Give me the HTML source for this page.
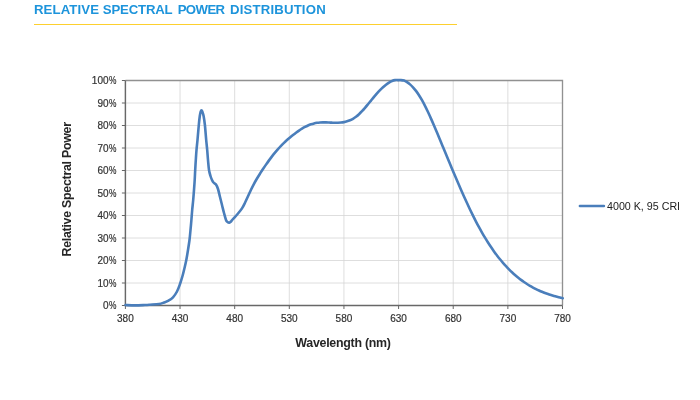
<!DOCTYPE html>
<html><head><meta charset="utf-8"><title>Relative Spectral Power Distribution</title>
<style>
html,body{margin:0;padding:0;background:#fff;}
body{width:700px;height:400px;position:relative;overflow:hidden;font-family:"Liberation Sans",sans-serif;}
h1{position:absolute;left:0;top:1.65px;width:400px;height:16px;margin:0;font-size:13.2px;line-height:16px;font-weight:bold;color:#1d94db;white-space:nowrap;}
h1 span{position:absolute;top:0;}
.rule{position:absolute;left:34px;top:23.7px;width:422.5px;height:1.2px;background:#fdd02e;}
svg{position:absolute;left:0;top:0;}
.t{font-family:"Liberation Sans",sans-serif;font-size:10px;fill:#333;stroke:#333;stroke-width:0.2px;}
.b{font-family:"Liberation Sans",sans-serif;font-size:12.4px;letter-spacing:-0.27px;font-weight:bold;fill:#262626;}
.l{font-family:"Liberation Sans",sans-serif;font-size:10.7px;fill:#222;}
</style></head><body>
<h1><span style="left:33.93px;letter-spacing:0.118px">RELATIVE</span> <span style="left:102.83px;letter-spacing:-0.179px">SPECTRAL</span> <span style="left:177.63px;letter-spacing:-0.58px">POWER</span> <span style="left:229.93px;letter-spacing:0.18px">DISTRIBUTION</span></h1>
<div class="rule"></div>
<svg width="700" height="400" viewBox="0 0 700 400">
<line x1="180.04" y1="80.5" x2="180.04" y2="305.5" stroke="#d6d6d6" stroke-width="0.8"/>
<line x1="234.68" y1="80.5" x2="234.68" y2="305.5" stroke="#d6d6d6" stroke-width="0.8"/>
<line x1="289.31" y1="80.5" x2="289.31" y2="305.5" stroke="#d6d6d6" stroke-width="0.8"/>
<line x1="343.95" y1="80.5" x2="343.95" y2="305.5" stroke="#d6d6d6" stroke-width="0.8"/>
<line x1="398.59" y1="80.5" x2="398.59" y2="305.5" stroke="#d6d6d6" stroke-width="0.8"/>
<line x1="453.23" y1="80.5" x2="453.23" y2="305.5" stroke="#d6d6d6" stroke-width="0.8"/>
<line x1="507.86" y1="80.5" x2="507.86" y2="305.5" stroke="#d6d6d6" stroke-width="0.8"/>
<line x1="125.4" y1="283.00" x2="562.5" y2="283.00" stroke="#d6d6d6" stroke-width="0.8"/>
<line x1="125.4" y1="260.50" x2="562.5" y2="260.50" stroke="#d6d6d6" stroke-width="0.8"/>
<line x1="125.4" y1="238.00" x2="562.5" y2="238.00" stroke="#d6d6d6" stroke-width="0.8"/>
<line x1="125.4" y1="215.50" x2="562.5" y2="215.50" stroke="#d6d6d6" stroke-width="0.8"/>
<line x1="125.4" y1="193.00" x2="562.5" y2="193.00" stroke="#d6d6d6" stroke-width="0.8"/>
<line x1="125.4" y1="170.50" x2="562.5" y2="170.50" stroke="#d6d6d6" stroke-width="0.8"/>
<line x1="125.4" y1="148.00" x2="562.5" y2="148.00" stroke="#d6d6d6" stroke-width="0.8"/>
<line x1="125.4" y1="125.50" x2="562.5" y2="125.50" stroke="#d6d6d6" stroke-width="0.8"/>
<line x1="125.4" y1="103.00" x2="562.5" y2="103.00" stroke="#d6d6d6" stroke-width="0.8"/>
<path d="M125.4,80.5 H562.5 V305.5" fill="none" stroke="#919191" stroke-width="1.35"/>
<path d="M125.4,80.5 V305.5 H562.5" fill="none" stroke="#686868" stroke-width="1.45"/>
<line x1="125.40" y1="305.5" x2="125.40" y2="309.0" stroke="#666" stroke-width="1"/>
<line x1="180.04" y1="305.5" x2="180.04" y2="309.0" stroke="#666" stroke-width="1"/>
<line x1="234.68" y1="305.5" x2="234.68" y2="309.0" stroke="#666" stroke-width="1"/>
<line x1="289.31" y1="305.5" x2="289.31" y2="309.0" stroke="#666" stroke-width="1"/>
<line x1="343.95" y1="305.5" x2="343.95" y2="309.0" stroke="#666" stroke-width="1"/>
<line x1="398.59" y1="305.5" x2="398.59" y2="309.0" stroke="#666" stroke-width="1"/>
<line x1="453.23" y1="305.5" x2="453.23" y2="309.0" stroke="#666" stroke-width="1"/>
<line x1="507.86" y1="305.5" x2="507.86" y2="309.0" stroke="#666" stroke-width="1"/>
<line x1="562.50" y1="305.5" x2="562.50" y2="309.0" stroke="#666" stroke-width="1"/>
<line x1="121.9" y1="305.50" x2="125.4" y2="305.50" stroke="#666" stroke-width="1"/>
<line x1="121.9" y1="283.00" x2="125.4" y2="283.00" stroke="#666" stroke-width="1"/>
<line x1="121.9" y1="260.50" x2="125.4" y2="260.50" stroke="#666" stroke-width="1"/>
<line x1="121.9" y1="238.00" x2="125.4" y2="238.00" stroke="#666" stroke-width="1"/>
<line x1="121.9" y1="215.50" x2="125.4" y2="215.50" stroke="#666" stroke-width="1"/>
<line x1="121.9" y1="193.00" x2="125.4" y2="193.00" stroke="#666" stroke-width="1"/>
<line x1="121.9" y1="170.50" x2="125.4" y2="170.50" stroke="#666" stroke-width="1"/>
<line x1="121.9" y1="148.00" x2="125.4" y2="148.00" stroke="#666" stroke-width="1"/>
<line x1="121.9" y1="125.50" x2="125.4" y2="125.50" stroke="#666" stroke-width="1"/>
<line x1="121.9" y1="103.00" x2="125.4" y2="103.00" stroke="#666" stroke-width="1"/>
<line x1="121.9" y1="80.50" x2="125.4" y2="80.50" stroke="#666" stroke-width="1"/>
<text x="125.40" y="321.5" text-anchor="middle" class="t">380</text>
<text x="180.04" y="321.5" text-anchor="middle" class="t">430</text>
<text x="234.68" y="321.5" text-anchor="middle" class="t">480</text>
<text x="289.31" y="321.5" text-anchor="middle" class="t">530</text>
<text x="343.95" y="321.5" text-anchor="middle" class="t">580</text>
<text x="398.59" y="321.5" text-anchor="middle" class="t">630</text>
<text x="453.23" y="321.5" text-anchor="middle" class="t">680</text>
<text x="507.86" y="321.5" text-anchor="middle" class="t">730</text>
<text x="562.50" y="321.5" text-anchor="middle" class="t">780</text>
<text x="108.55" y="309.10" text-anchor="end" class="t">0</text><text transform="translate(108.89,309.10) scale(0.837,1)" class="t">%</text>
<text x="108.55" y="286.60" text-anchor="end" class="t">10</text><text transform="translate(108.89,286.60) scale(0.837,1)" class="t">%</text>
<text x="108.55" y="264.10" text-anchor="end" class="t">20</text><text transform="translate(108.89,264.10) scale(0.837,1)" class="t">%</text>
<text x="108.55" y="241.60" text-anchor="end" class="t">30</text><text transform="translate(108.89,241.60) scale(0.837,1)" class="t">%</text>
<text x="108.55" y="219.10" text-anchor="end" class="t">40</text><text transform="translate(108.89,219.10) scale(0.837,1)" class="t">%</text>
<text x="108.55" y="196.60" text-anchor="end" class="t">50</text><text transform="translate(108.89,196.60) scale(0.837,1)" class="t">%</text>
<text x="108.55" y="174.10" text-anchor="end" class="t">60</text><text transform="translate(108.89,174.10) scale(0.837,1)" class="t">%</text>
<text x="108.55" y="151.60" text-anchor="end" class="t">70</text><text transform="translate(108.89,151.60) scale(0.837,1)" class="t">%</text>
<text x="108.55" y="129.10" text-anchor="end" class="t">80</text><text transform="translate(108.89,129.10) scale(0.837,1)" class="t">%</text>
<text x="108.55" y="106.60" text-anchor="end" class="t">90</text><text transform="translate(108.89,106.60) scale(0.837,1)" class="t">%</text>
<text x="108.55" y="84.10" text-anchor="end" class="t">100</text><text transform="translate(108.89,84.10) scale(0.837,1)" class="t">%</text>
<path d="M125.5,305 C127.08,305.07 131.75,305.40 135,305.4 C138.25,305.40 142.50,305.12 145,305 C147.50,304.88 147.67,304.86 150,304.7 C152.33,304.54 156.67,304.40 159,304.038 C161.33,303.68 162.50,303.08 164,302.539 C165.50,302.00 166.50,301.67 168,300.8 C169.50,299.93 171.50,298.85 173,297.3 C174.50,295.75 175.83,293.74 177,291.518 C178.17,289.30 179.08,286.59 180,284 C180.92,281.41 181.75,278.67 182.5,276 C183.25,273.33 183.87,270.67 184.5,268 C185.13,265.33 185.72,263.00 186.3,260 C186.88,257.00 187.47,253.33 188,250 C188.53,246.67 189.08,243.33 189.5,240 C189.92,236.67 190.18,233.33 190.5,230 C190.82,226.67 191.12,223.33 191.4,220 C191.68,216.67 191.90,213.33 192.2,210 C192.50,206.67 192.90,203.33 193.2,200 C193.50,196.67 193.75,193.33 194,190 C194.25,186.67 194.50,183.33 194.7,180 C194.90,176.67 195.02,173.33 195.2,170 C195.38,166.67 195.58,163.33 195.8,160 C196.02,156.67 196.22,153.33 196.5,150 C196.78,146.67 197.12,144.17 197.5,140 C197.88,135.83 198.42,129.00 198.8,125 C199.18,121.00 199.48,118.25 199.8,116 C200.12,113.75 200.42,112.47 200.7,111.5 C200.98,110.53 201.23,110.20 201.5,110.2 C201.77,110.20 201.95,110.53 202.3,111.5 C202.65,112.47 203.17,113.75 203.6,116 C204.03,118.25 204.47,121.00 204.9,125 C205.33,129.00 205.82,135.83 206.2,140 C206.58,144.17 206.90,146.67 207.2,150 C207.50,153.33 207.70,156.67 208,160 C208.30,163.33 208.58,167.33 209,170 C209.42,172.67 210.00,174.33 210.5,176 C211.00,177.67 211.50,178.92 212,180 C212.50,181.08 212.83,181.75 213.5,182.5 C214.17,183.25 215.25,183.42 216,184.5 C216.75,185.58 217.33,186.92 218,189 C218.67,191.08 219.33,194.33 220,197 C220.67,199.67 221.33,202.33 222,205 C222.67,207.67 223.33,210.50 224,213 C224.67,215.50 225.42,218.50 226,220 C226.58,221.50 226.95,221.55 227.5,222 C228.05,222.45 228.72,222.78 229.3,222.7 C229.88,222.62 230.38,222.12 231,221.5 C231.62,220.88 231.83,220.33 233,219 C234.17,217.67 236.50,215.28 238,213.5 C239.50,211.72 240.83,210.14 242,208.348 C243.17,206.55 244.00,204.74 245,202.739 C246.00,200.73 247.00,198.48 248,196.318 C249.00,194.16 250.00,191.88 251,189.799 C252.00,187.72 253.00,185.71 254,183.833 C255.00,181.95 256.00,180.21 257,178.519 C258.00,176.82 259.00,175.24 260,173.659 C261.00,172.08 262.00,170.56 263,169.057 C264.00,167.55 265.00,166.06 266,164.615 C267.00,163.17 268.00,161.74 269,160.367 C270.00,158.99 271.00,157.65 272,156.354 C273.00,155.06 274.00,153.81 275,152.609 C276.00,151.40 277.00,150.24 278,149.122 C279.00,148.00 280.00,146.92 281,145.877 C282.00,144.83 283.00,143.83 284,142.856 C285.00,141.88 286.00,140.95 287,140.044 C288.00,139.14 289.00,138.27 290,137.424 C291.00,136.58 292.00,135.77 293,134.979 C294.00,134.19 295.00,133.43 296,132.693 C297.00,131.96 298.00,131.25 299,130.575 C300.00,129.90 301.00,129.25 302,128.648 C303.00,128.04 304.00,127.47 305,126.94 C306.00,126.41 307.00,125.92 308,125.477 C309.00,125.03 310.00,124.63 311,124.285 C312.00,123.94 313.00,123.64 314,123.389 C315.00,123.14 316.00,122.96 317,122.806 C318.00,122.66 319.00,122.56 320,122.492 C321.00,122.42 322.00,122.40 323,122.384 C324.00,122.37 325.00,122.39 326,122.418 C327.00,122.44 328.00,122.49 329,122.533 C330.00,122.57 331.00,122.63 332,122.665 C333.00,122.70 334.00,122.74 335,122.75 C336.00,122.76 337.00,122.76 338,122.726 C339.00,122.69 340.00,122.64 341,122.53 C342.00,122.43 343.00,122.29 344,122.099 C345.00,121.91 346.00,121.67 347,121.37 C348.00,121.07 349.00,120.71 350,120.279 C351.00,119.84 352.00,119.35 353,118.763 C354.00,118.18 355.00,117.52 356,116.76 C357.00,116.00 358.00,115.15 359,114.219 C360.00,113.29 361.00,112.27 362,111.204 C363.00,110.14 364.00,109.00 365,107.838 C366.00,106.68 367.00,105.46 368,104.248 C369.00,103.03 370.00,101.78 371,100.558 C372.00,99.33 373.00,98.09 374,96.8942 C375.00,95.70 376.00,94.51 377,93.3818 C378.00,92.25 379.00,91.16 380,90.1321 C381.00,89.10 382.00,88.12 383,87.211 C384.00,86.30 385.00,85.45 386,84.6751 C387.00,83.90 388.00,83.20 389,82.5806 C390.00,81.97 391.00,81.40 392,80.9843 C393.00,80.57 394.00,80.25 395,80.1 C396.00,79.95 397.00,80.10 398,80.1 C399.00,80.10 400.00,80.02 401,80.1 C402.00,80.18 403.00,80.26 404,80.6016 C405.00,80.94 406.00,81.52 407,82.1444 C408.00,82.77 409.00,83.51 410,84.3652 C411.00,85.22 412.00,86.19 413,87.2738 C414.00,88.36 415.00,89.56 416,90.8799 C417.00,92.20 418.00,93.64 419,95.1933 C420.00,96.75 421.00,98.43 422,100.21 C423.00,101.99 424.00,103.88 425,105.852 C426.00,107.82 427.00,109.89 428,112.015 C429.00,114.14 430.00,116.35 431,118.597 C432.00,120.84 433.00,123.16 434,125.494 C435.00,127.83 436.00,130.22 437,132.603 C438.00,134.99 439.00,137.41 440,139.821 C441.00,142.23 442.00,144.65 443,147.069 C444.00,149.49 445.00,151.91 446,154.317 C447.00,156.73 448.00,159.14 449,161.541 C450.00,163.94 451.00,166.34 452,168.718 C453.00,171.10 454.00,173.47 455,175.822 C456.00,178.17 457.00,180.51 458,182.831 C459.00,185.15 460.00,187.45 461,189.72 C462.00,191.99 463.00,194.25 464,196.466 C465.00,198.69 466.00,200.88 467,203.044 C468.00,205.21 469.00,207.34 470,209.431 C471.00,211.52 472.00,213.59 473,215.603 C474.00,217.62 475.00,219.60 476,221.535 C477.00,223.47 478.00,225.36 479,227.204 C480.00,229.05 481.00,230.84 482,232.59 C483.00,234.34 484.00,236.04 485,237.694 C486.00,239.35 487.00,240.96 488,242.524 C489.00,244.09 490.00,245.61 491,247.087 C492.00,248.56 493.00,250.00 494,251.392 C495.00,252.79 496.00,254.14 497,255.447 C498.00,256.76 499.00,258.03 500,259.259 C501.00,260.49 502.00,261.68 503,262.838 C504.00,263.99 505.00,265.11 506,266.191 C507.00,267.27 508.00,268.32 509,269.325 C510.00,270.34 511.00,271.31 512,272.25 C513.00,273.19 514.00,274.10 515,274.972 C516.00,275.85 517.00,276.69 518,277.501 C519.00,278.31 520.00,279.09 521,279.843 C522.00,280.59 523.00,281.31 524,282.008 C525.00,282.70 526.00,283.37 527,284.004 C528.00,284.64 529.00,285.25 530,285.841 C531.00,286.43 532.00,286.99 533,287.527 C534.00,288.07 535.00,288.58 536,289.074 C537.00,289.57 538.00,290.04 539,290.489 C540.00,290.94 541.00,291.37 542,291.782 C543.00,292.19 544.00,292.59 545,292.964 C546.00,293.34 547.00,293.70 548,294.043 C549.00,294.39 550.00,294.71 551,295.029 C552.00,295.34 553.00,295.64 554,295.931 C555.00,296.22 556.00,296.49 557,296.758 C558.00,297.02 559.04,297.29 560,297.521 C560.96,297.76 562.29,298.06 562.75,298.172" fill="none" stroke="#4a7ebb" stroke-width="2.6" stroke-linejoin="round" stroke-linecap="round"/>
<text x="343" y="347" text-anchor="middle" class="b">Wavelength (nm)</text>
<text transform="translate(71.4,189.4) rotate(-90)" text-anchor="middle" class="b">Relative Spectral Power</text>
<line x1="579.9" y1="206" x2="603.9" y2="206" stroke="#4a7ebb" stroke-width="2.6" stroke-linecap="round"/>
<text x="607" y="209.7" class="l">4000 K, 95 CRI</text>
</svg>
</body></html>
